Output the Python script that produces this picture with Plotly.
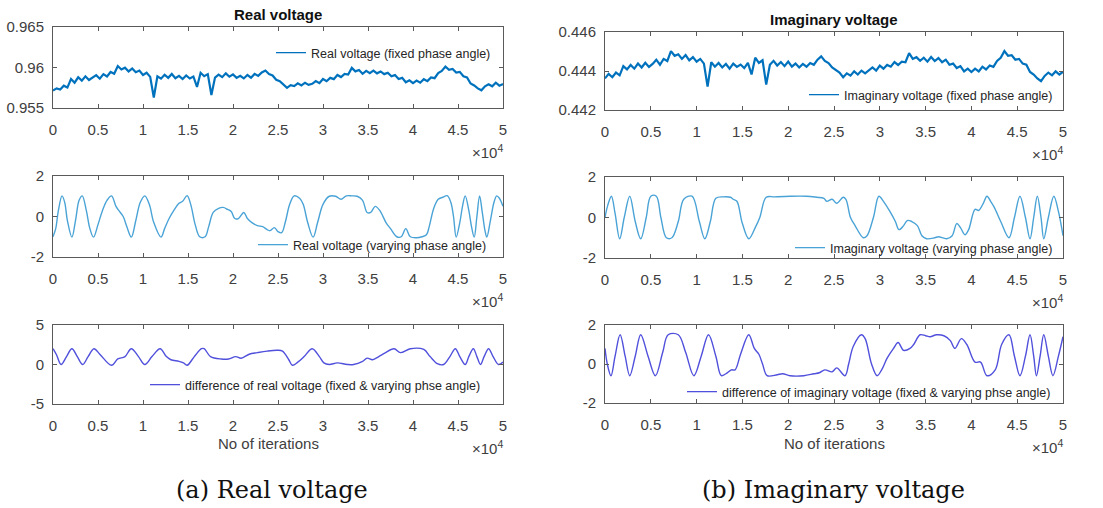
import plotly.graph_objects as go

# ---------------- data ----------------
x_fixed = list(range(0, 50001, 400))

real_fixed = [
    0.95715, 0.95742, 0.95728, 0.95775, 0.95752, 0.95858, 0.95812, 0.95879, 0.95838, 0.95891,
    0.95846, 0.95873, 0.95906, 0.95862, 0.95918, 0.95889, 0.95945, 0.95922, 0.96018, 0.95976,
    0.95998, 0.95952, 0.95989, 0.95941, 0.95962, 0.95908, 0.95935, 0.95884, 0.95630, 0.95892,
    0.95862, 0.95911, 0.95872, 0.95920, 0.95868, 0.95896, 0.95857, 0.95902, 0.95864, 0.95889,
    0.95760, 0.95935, 0.95892, 0.95918, 0.95660, 0.95876, 0.95912, 0.95881, 0.95928, 0.95886,
    0.95915, 0.95872, 0.95898, 0.95865, 0.95908, 0.95874, 0.95921, 0.95896, 0.95938, 0.95962,
    0.95918, 0.95902, 0.95848, 0.95832, 0.95792, 0.95748, 0.95782, 0.95771, 0.95805, 0.95779,
    0.95812, 0.95786, 0.95798, 0.95832, 0.95806, 0.95858, 0.95831, 0.95872, 0.95856, 0.95908,
    0.95882, 0.95921, 0.95912, 0.95995, 0.95952, 0.95968, 0.95922, 0.95958, 0.95931, 0.95962,
    0.95928, 0.95951, 0.95918, 0.95936, 0.95892, 0.95906, 0.95858, 0.95872, 0.95818, 0.95842,
    0.95806, 0.95838, 0.95812, 0.95856, 0.95832, 0.95878, 0.95868, 0.95932, 0.95958, 0.96012,
    0.95972, 0.95982, 0.95938, 0.95946, 0.95892, 0.95878, 0.95802, 0.95778, 0.95742, 0.95718,
    0.95768, 0.95792, 0.95768, 0.95812, 0.95776, 0.95795,
]

imag_fixed = [
    0.44362, 0.44385, 0.44368, 0.44392, 0.44378, 0.44425, 0.44408, 0.44431, 0.44412, 0.44438,
    0.44418, 0.44442, 0.44421, 0.44436, 0.44458, 0.44432, 0.44462, 0.44451, 0.44502, 0.44478,
    0.44486, 0.44462, 0.44482, 0.44455, 0.44471, 0.44448, 0.44462, 0.44438, 0.44320, 0.44445,
    0.44422, 0.44441, 0.44418, 0.44436, 0.44412, 0.44438, 0.44421, 0.44433, 0.44415, 0.44442,
    0.44382, 0.44468, 0.44441, 0.44455, 0.44330, 0.44432, 0.44452, 0.44428, 0.44446, 0.44425,
    0.44448, 0.44422, 0.44438, 0.44418, 0.44436, 0.44422, 0.44441, 0.44432, 0.44458, 0.44475,
    0.44452, 0.44441, 0.44418, 0.44405, 0.44392, 0.44368, 0.44388, 0.44376, 0.44398, 0.44382,
    0.44402, 0.44388, 0.44405, 0.44418, 0.44402, 0.44428, 0.44412, 0.44431, 0.44422, 0.44446,
    0.44431, 0.44448, 0.44445, 0.44492, 0.44462, 0.44471, 0.44452, 0.44468, 0.44448, 0.44472,
    0.44451, 0.44466, 0.44445, 0.44458, 0.44432, 0.44438, 0.44415, 0.44425, 0.44398, 0.44412,
    0.44395, 0.44412, 0.44398, 0.44422, 0.44408, 0.44428, 0.44421, 0.44452, 0.44468, 0.44502,
    0.44478, 0.44481, 0.44458, 0.44462, 0.44438, 0.44432, 0.44395, 0.44382, 0.44362, 0.44348,
    0.44375, 0.44392, 0.44378, 0.44398, 0.44382, 0.44395,
]

real_vary_x = [
    0, 300, 600, 1000, 1300, 1600, 2100, 2500, 2900, 3250, 3700, 4100, 4500, 5000, 5500, 6000,
    6500, 7000, 7300, 7800, 8200, 8700, 9200, 9700, 10200, 10700, 11200, 12000, 12400, 12900,
    13500, 14000, 14400, 14900, 15300, 15800, 16300, 16900, 17300, 17800, 18400, 18900, 19400,
    19800, 20200, 20600, 21200, 21600, 22100, 22700, 23300, 23800, 24100, 24600, 25000, 25400,
    25800, 26300, 26800, 27400, 27800, 28300, 28900, 29400, 30000, 30700, 31400, 32000, 32600,
    33200, 33800, 34400, 34900, 35300, 35800, 36300, 37000, 37500, 38200, 38700, 39200, 39700,
    40400, 41000, 41500, 41800, 42300, 42800, 43300, 43800, 44200, 44500, 44800, 45200, 45500,
    45800, 46200, 46500, 46800, 47100, 47400, 47700, 48000, 48200, 48600, 49000, 49300, 49600,
    50000,
]
real_vary_y = [
    -1.0, -0.6, 0.3, 1.02, 0.7, -0.2, -1.02, -0.2, 0.8, 1.02, 0.3, -0.6, -1.02, -0.4, 0.3, 0.8,
    1.02, 0.5, 0.3, 0.0, -0.5, -1.02, -0.2, 0.7, 1.02, 0.6, -0.3, -1.02, -0.6, -0.1,
    0.35, 0.65, 0.75, 1.03, 0.6, -0.4, -1.0, -1.0, -0.5, 0.2, 0.4, 0.45, 0.35,
    0.25, -0.1, -0.1, 0.2, -0.1, -0.3, -0.45, -0.5, -0.65, -0.7, -0.55, -0.75, -0.8,
    -0.3, 0.6, 1.02, 0.9, 0.6, -0.3, -1.02, -0.3, 0.6, 1.0, 1.0, 0.85, 1.02,
    1.02, 1.0, 0.8, 0.2, 0.2, 0.5, 0.3, -0.3, -0.6, -1.0, -1.0, -0.6, -1.0,
    -1.05, -1.0, -0.9, -0.5, 0.4, 0.85, 0.95, 1.03, 0.7, 0.0, -1.02, -0.3, 0.5,
    1.02, 0.3, -0.5, -1.02, 0.0, 1.02, 0.2, -0.7, -1.02, -0.2, 0.7, 1.02, 0.9,
    0.5,
]

imag_vary_x = [
    0, 300, 700, 1100, 1600, 2100, 2700, 3300, 3900, 4500, 5000, 5600, 6100, 6700, 7300, 8000,
    8600, 9500, 10300, 10900, 11500, 12100, 12900, 13700, 14000, 14400, 15000, 15700, 16400,
    16900, 17600, 18500, 20200, 22000, 23100, 23900, 24200, 24800, 25300, 26000, 26300, 26800,
    27300, 28200, 28600, 29300, 29900, 30400, 31100, 31700, 32100, 32600, 33000, 33500, 34100,
    34600, 35100, 36000, 36400, 37300, 37900, 38400, 38800, 39300, 39700, 40400, 40800, 41300,
    41700, 42100, 42500, 43200, 44100, 44700, 45300, 45900, 46400, 46800, 47200, 47600, 47900,
    48400, 49000, 49500, 50000,
]
imag_vary_y = [
    0.0, 0.6, 1.05, 0.2, -1.05, 0.0, 1.05, -0.2, -1.05, 0.0, 1.05, 1.05, 0.0, -1.0, -1.0, -0.2,
    0.9, 1.05, -0.2, -1.05, -0.2, 0.95, 1.02, 1.0, 0.9, 0.8, -0.3, -1.05, -0.5,
    0.0, 1.0, 1.02, 1.05, 1.05, 1.0, 0.95, 0.8, 0.9, 0.7, 1.0, 0.9, 0.0,
    -0.4, -1.0, -0.9, 0.0, 1.05, 0.8, 0.3, -0.2, -0.6, -0.4, -0.15, -0.2, -0.4,
    -0.9, -1.05, -1.0, -0.95, -1.05, -0.9, -0.3, -0.5, -0.85, -0.6, 0.4, 0.35, 0.7,
    1.05, 0.8, 0.5, -0.2, -1.0, 0.0, 1.05, 0.0, -1.05, 0.0, 1.05, 0.0, -1.05,
    0.0, 1.05, 0.3, -0.9,
]

real_diff_x = [
    0, 400, 900, 1500, 2100, 2700, 3300, 3900, 4550, 5200, 6500, 7200, 8000, 8700, 9500, 10200,
    11000, 11900, 12600, 13100, 14000, 14500, 14900, 15700, 16500, 16800, 17500, 18700, 19500,
    20300, 20900, 21800, 22700, 23800, 24900, 25500, 26200, 26600, 27200, 27900, 28800, 29600,
    30100, 30700, 31600, 32700, 33400, 34400, 34900, 35500, 36200, 36800, 37900, 38600, 39700,
    41200, 41900, 42700, 43400, 44100, 44700, 45200, 45800, 46200, 46700, 47100, 47500, 47900,
    48400, 48900, 49500, 50000,
]
real_diff_y = [
    2.0, 1.2, 0.0, 1.0, 2.0, 1.0, 0.0, 1.0, 2.0, 1.3, -0.1, 0.7, 1.0, 2.0, 1.0, 0.0,
    1.0, 2.0, 1.0, 0.6, 0.4, 0.2, -0.1, 1.0, 2.0, 2.0, 1.0, 0.7, 0.7,
    1.0, 0.8, 1.3, 1.5, 1.7, 1.8, 1.7, 0.6, -0.1, 0.3, 1.0, 2.0, 1.0,
    0.2, 0.0, 0.2, 0.0, 0.0, 0.4, 0.8, 0.6, 1.0, 1.4, 2.0, 1.5, 2.0,
    1.9, 1.0, 0.1, 0.0, 1.0, 2.0, 1.0, 0.0, 1.0, 2.0, 1.0, 0.0, 1.0,
    2.0, 1.0, 0.0, 0.3,
]

imag_diff_x = [
    0, 250, 650, 1100, 1650, 2200, 2700, 3300, 3900, 4700, 5500, 6300, 6900, 8000, 8800, 9700,
    10500, 11300, 12100, 12700, 13200, 13800, 14200, 14800, 15700, 16300, 16800, 17200, 17700,
    18800, 19400, 20200, 21700, 22800, 23400, 24000, 24800, 25300, 26200, 26600, 27100, 28000,
    28400, 29100, 29700, 30200, 30800, 31500, 32000, 32600, 33300, 33700, 34400, 35000, 35500,
    36200, 37000, 37700, 38200, 38900, 39500, 40400, 41000, 41700, 42600, 43300, 44100, 44700,
    45300, 45900, 46400, 46800, 47100, 47500, 47900, 48400, 48900, 49500, 50000,
]
imag_diff_y = [
    0.8, 0.0, -0.6, 0.4, 1.5, 0.4, -0.6, 0.4, 1.5, 0.4, -0.6, 0.6, 1.5, 1.5, 0.6, -0.6,
    0.4, 1.5, 0.4, -0.6, -0.5, -0.3, -0.3, 0.5, 1.5, 0.8, 0.5, 0.0, -0.6,
    -0.55, -0.5, -0.6, -0.6, -0.5, -0.45, -0.3, -0.4, -0.2, -0.6, 0.0, 0.9, 1.5,
    1.3, 0.0, -0.6, -0.3, 0.3, 0.8, 1.1, 0.7, 0.8, 1.0, 1.5, 1.45, 1.4,
    1.5, 1.45, 1.2, 0.8, 1.3, 1.0, 0.1, 0.1, -0.6, -0.3, 1.0, 1.5, 0.4,
    -0.6, 0.4, 1.5, 0.4, -0.6, 0.4, 1.5, 0.4, -0.6, 0.4, 1.4,
]

x_tick_vals = [0, 5000, 10000, 15000, 20000, 25000, 30000, 35000, 40000, 45000, 50000]
x_tick_text = ["0", "0.5", "1", "1.5", "2", "2.5", "3", "3.5", "4", "4.5", "5"]

y_ticks = {
    1: [0.955, 0.96, 0.965],
    2: [0.442, 0.444, 0.446],
    3: [-2, 0, 2],
    4: [-2, 0, 2],
    5: [-5, 0, 5],
    6: [-2, 0, 2],
}
y_tick_text = {
    1: ["0.955", "0.96", "0.965"],
    2: ["0.442", "0.444", "0.446"],
    3: ["-2", "0", "2"],
    4: ["-2", "0", "2"],
    5: ["-5", "0", "5"],
    6: ["-2", "0", "2"],
}

# ---------------- styling ----------------
W, H = 1103, 508
C_FIXED = "#0072BD"
C_VARY = "#4aa3d6"
C_DIFF = "#5050dc"
AXC = "#5a5a5a"
TXC = "#404040"
FONT = "Liberation Sans, Arial, sans-serif"


def px(x):
    return x / W


def py(y):
    return 1 - y / H


# pixel boxes of the panels (left, top, right, bottom)
boxes = {
    1: (53, 27, 503, 108),
    2: (605, 32, 1063, 110),
    3: (53, 176, 503, 257),
    4: (605, 177, 1063, 258),
    5: (53, 325, 503, 404),
    6: (605, 325, 1063, 403),
}

series = [
    (1, x_fixed, real_fixed, "Real voltage (fixed phase angle)", C_FIXED, "linear"),
    (2, x_fixed, imag_fixed, "Imaginary voltage (fixed phase angle)", C_FIXED, "linear"),
    (3, real_vary_x, real_vary_y, "Real voltage (varying phase angle)", C_VARY, "spline"),
    (4, imag_vary_x, imag_vary_y, "Imaginary voltage (varying phase angle)", C_VARY, "spline"),
    (5, real_diff_x, real_diff_y, "difference of real voltage (fixed & varying phse angle)", C_DIFF, "spline"),
    (6, imag_diff_x, imag_diff_y, "difference of imaginary voltage (fixed & varying phse angle)", C_DIFF, "spline"),
]

# legend anchor (right edge px, center y px)
legend_pos = {
    1: (496, 53),
    2: (1058, 95),
    3: (492, 245),
    4: (1058, 248),
    5: (486, 385),
    6: (1056, 392),
}

fig = go.Figure()
layout = dict(
    width=W, height=H,
    margin=dict(l=0, r=0, t=0, b=0, autoexpand=False),
    paper_bgcolor="white", plot_bgcolor="white",
    font=dict(family=FONT, color=TXC, size=14),
    annotations=[],
)

for k, xs, ys, name, col, shape in series:
    sfx = "" if k == 1 else str(k)
    lg = "legend" if k == 1 else "legend%d" % k
    line = dict(color=col, width=2.2 if k <= 2 else 1.4, shape=shape)
    if shape == "spline":
        line["smoothing"] = 1.0
    fig.add_trace(go.Scatter(
        x=xs, y=ys, mode="lines", name=name, line=line,
        xaxis="x" + sfx, yaxis="y" + sfx, showlegend=False,
    ))
    # legend entry with a thin sample line (MATLAB style)
    fig.add_trace(go.Scatter(
        x=[None], y=[None], mode="lines", name=name,
        line=dict(color=col, width=1.3),
        xaxis="x" + sfx, yaxis="y" + sfx, legend=lg, showlegend=True,
    ))
    l, t, r, b = boxes[k]
    layout["xaxis" + sfx] = dict(
        domain=[px(l), px(r)], anchor="y" + sfx, range=[0, 50000],
        tickvals=x_tick_vals, ticktext=x_tick_text, ticks="inside", ticklen=4,
        tickcolor=AXC, showline=True, linecolor=AXC, linewidth=1, mirror="ticks",
        showgrid=False, zeroline=False, tickfont=dict(size=15, color=TXC),
        automargin=False, ticklabelstandoff=8,
    )
    layout["yaxis" + sfx] = dict(
        domain=[py(b), py(t)], anchor="x" + sfx,
        range=[y_ticks[k][0], y_ticks[k][-1]],
        tickvals=y_ticks[k], ticktext=y_tick_text[k], ticks="inside", ticklen=4,
        tickcolor=AXC, showline=True, linecolor=AXC, linewidth=1, mirror="ticks",
        showgrid=False, zeroline=False, tickfont=dict(size=15, color=TXC),
        automargin=False, ticklabelstandoff=5,
    )
    lx, ly = legend_pos[k]
    layout[lg] = dict(
        x=px(lx), y=py(ly), xanchor="right", yanchor="middle",
        bgcolor="rgba(255,255,255,0)", borderwidth=0,
        font=dict(size=12.5, color="#262626", family=FONT),
        itemwidth=30, tracegroupgap=0,
    )
    # x10^4 multiplier
    layout["annotations"].append(dict(
        text="\u00d710<sup>4</sup>", xref="paper", yref="paper",
        x=px(r + 2), y=py(b + 43), xanchor="right", yanchor="middle",
        showarrow=False, font=dict(size=15, color=TXC, family=FONT),
    ))

# titles
layout["annotations"].append(dict(
    text="<b>Real voltage</b>", xref="paper", yref="paper", x=px(278), y=py(15),
    xanchor="center", yanchor="middle", showarrow=False,
    font=dict(size=15, color="#111111", family=FONT)))
layout["annotations"].append(dict(
    text="<b>Imaginary voltage</b>", xref="paper", yref="paper", x=px(834), y=py(19),
    xanchor="center", yanchor="middle", showarrow=False,
    font=dict(size=15, color="#111111", family=FONT)))

# x-axis titles
for cx in (268, 834):
    layout["annotations"].append(dict(
        text="No of iterations", xref="paper", yref="paper", x=px(cx), y=py(443),
        xanchor="center", yanchor="middle", showarrow=False,
        font=dict(size=15, color=TXC, family=FONT)))

# captions
for cx, txt in ((272, "(a) Real voltage"), (833, "(b) Imaginary voltage")):
    layout["annotations"].append(dict(
        text=txt, xref="paper", yref="paper", x=px(cx), y=py(490),
        xanchor="center", yanchor="middle", showarrow=False,
        font=dict(size=24, color="#111111", family="DejaVu Serif, Liberation Serif, serif")))

fig.update_layout(**layout)
fig.write_html(
    "out.html",
    config={"displayModeBar": False},
    post_script="document.body.style.margin='0';document.body.style.overflow='hidden';",
)
